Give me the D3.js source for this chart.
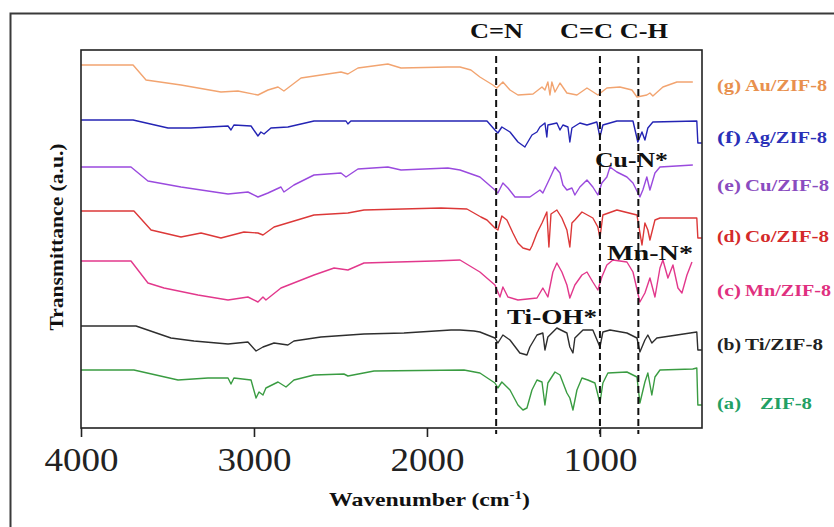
<!DOCTYPE html>
<html>
<head>
<meta charset="utf-8">
<script src="https://cdn.jsdelivr.net/npm/d3@7"></script>
<style>
  body { margin: 0; background: #fff; }
  svg { display: block; }
</style>
</head>
<body>
<div id="chart"></div>
<script>
// FTIR spectra, [wavenumber cm-1, transmittance a.u.]
const auZif8 = [[4000,363],[3699,363],[3624,348],[3422,343],[3191,336],[3093,337],[2977,333],[2919,338],[2861,341],[2827,337],[2728,350],[2497,356],[2457,354],[2399,360],[2226,364],[2150,360],[1879,361],[1809,361],[1746,358],[1694,351],[1619,343],[1596,340],[1561,346],[1520,338],[1474,333],[1387,334],[1335,341],[1318,338],[1301,346],[1289,333],[1278,346],[1260,336],[1231,345],[1191,335],[1133,333],[1075,340],[1012,333],[960,340],[885,341],[815,338],[786,331],[729,333],[711,335],[694,332],[636,341],[555,346],[463,346]];
const agZif8 = [[4000,308],[3699,308],[3497,300],[3364,300],[3150,302],[3133,298],[3116,303],[3017,302],[2977,292],[2960,296],[2942,294],[2902,300],[2804,301],[2653,307],[2468,307],[2457,304],[2440,307],[1809,307],[1653,307],[1607,298],[1590,295],[1567,301],[1520,296],[1474,286],[1434,281],[1393,293],[1364,296],[1347,301],[1318,305],[1307,291],[1301,303],[1249,305],[1231,298],[1214,303],[1185,301],[1174,286],[1162,300],[1116,305],[1075,303],[1018,306],[1000,291],[983,303],[902,307],[809,307],[781,286],[757,296],[740,288],[723,300],[694,306],[440,307],[434,285],[411,285]];
const cuZif8 = [[4000,261],[3711,261],[3613,247],[3422,241],[3150,234],[3035,236],[2977,231],[2919,235],[2844,241],[2827,236],[2769,243],[2653,253],[2497,255],[2468,251],[2399,259],[2226,261],[2150,258],[1879,260],[1809,258],[1694,251],[1607,238],[1590,235],[1561,245],[1532,240],[1491,231],[1405,231],[1347,238],[1330,235],[1289,250],[1260,261],[1231,255],[1214,243],[1191,238],[1162,240],[1145,233],[1116,241],[1075,248],[1041,241],[1012,233],[989,245],[960,251],[942,261],[902,256],[844,251],[809,245],[769,231],[752,238],[729,251],[711,238],[682,255],[653,261],[463,263]];
const coZif8 = [[4000,217],[3694,217],[3595,198],[3422,191],[3306,195],[3191,190],[3058,196],[2977,195],[2948,193],[2884,201],[2653,213],[2457,215],[2364,218],[1919,220],[1769,219],[1688,211],[1653,208],[1607,200],[1590,198],[1567,212],[1538,208],[1503,195],[1474,185],[1445,180],[1405,178],[1393,182],[1364,195],[1335,205],[1307,216],[1295,181],[1283,214],[1249,218],[1220,210],[1191,198],[1174,181],[1162,205],[1145,208],[1104,216],[1041,210],[1012,201],[1000,190],[983,213],[902,218],[786,213],[757,183],[740,205],[723,198],[711,188],[682,208],[653,210],[463,210],[440,210],[434,190],[411,190]];
const mnZif8 = [[4000,167],[3711,167],[3613,145],[3520,140],[3324,133],[3150,128],[3035,131],[2977,126],[2948,131],[2931,128],[2844,140],[2653,153],[2537,160],[2457,158],[2364,165],[2168,166],[1960,167],[1809,168],[1694,156],[1607,143],[1578,131],[1561,141],[1532,131],[1474,128],[1364,130],[1330,140],[1301,131],[1272,156],[1249,165],[1220,156],[1191,143],[1174,130],[1145,143],[1104,153],[1075,156],[1041,146],[1012,138],[989,151],[960,163],[925,168],[844,166],[809,156],[769,126],[740,135],[711,150],[682,131],[653,160],[636,168],[607,150],[578,163],[549,140],[526,135],[497,153],[468,166]];
const tiZif8 = [[4000,102],[3682,102],[3480,90],[3347,87],[3150,84],[3035,86],[2988,77],[2948,81],[2884,85],[2804,83],[2769,87],[2613,91],[2364,94],[2133,95],[1861,98],[1809,98],[1728,97],[1694,96],[1607,90],[1590,85],[1561,93],[1520,88],[1463,75],[1422,73],[1405,81],[1364,93],[1330,95],[1318,78],[1301,91],[1249,100],[1191,95],[1174,81],[1156,75],[1145,90],[1098,98],[1041,98],[1000,81],[983,96],[942,98],[844,95],[786,90],[769,76],[740,88],[723,93],[700,85],[671,90],[555,93],[440,96],[434,78],[411,78]];
const zif8 = [[4000,58],[3694,58],[3439,48],[3266,50],[3150,50],[3133,44],[3116,50],[3017,48],[2988,30],[2971,36],[2948,33],[2931,40],[2861,46],[2815,41],[2769,48],[2653,53],[2480,54],[2457,52],[2306,57],[1786,58],[1694,55],[1607,45],[1590,40],[1567,46],[1520,38],[1474,23],[1445,18],[1422,20],[1393,38],[1364,48],[1335,46],[1318,23],[1301,45],[1260,56],[1231,53],[1191,35],[1174,30],[1156,18],[1133,38],[1104,50],[1070,48],[1029,45],[1000,25],[983,45],[954,55],[844,56],[786,51],[769,25],[740,46],[723,55],[700,33],[682,51],[653,58],[463,59],[440,60],[434,23],[411,23]];

const seriesTags = ['(g)', '(f)', '(e)', '(d)', '(c)', '(b)', '(a)'];
const seriesNames = ['Au/ZIF-8', 'Ag/ZIF-8', 'Cu/ZIF-8', 'Co/ZIF-8', 'Mn/ZIF-8', 'Ti/ZIF-8', 'ZIF-8'];
const xTicks = [4000, 3000, 2000, 1000];
const bandPositions = [1600, 1000, 778];
const bandLabels = ['C=N', 'C=C C-H'];
const starLabels = ['Cu-N*', 'Mn-N*', 'Ti-OH*'];

const allSeries = [auZif8, agZif8, cuZif8, coZif8, mnZif8, tiZif8, zif8];
const lineColors = ['#f2a470', '#2424b4', '#9a4ade', '#dc3838', '#e2388c', '#2e2e2e', '#3a9c42'];
const labelColors = ['#e8904e', '#2a30b8', '#8a4cc0', '#d42a2a', '#e0307f', '#222222', '#22a064'];

const width = 834, height = 527;
const margin = { top: 50, right: 132, bottom: 99, left: 81 };

const svg = d3.select('#chart').append('svg')
  .attr('width', width)
  .attr('height', height);

// outer frame of the figure
svg.append('rect')
  .attr('x', 10.5).attr('y', 13.5)
  .attr('width', 900).attr('height', 600)
  .attr('fill', 'none')
  .attr('stroke', '#3a3a3a')
  .attr('stroke-width', 2);

const x = d3.scaleLinear()
  .domain([4000, 410])
  .range([margin.left, width - margin.right]);
const y = d3.scaleLinear()
  .domain([0, 378])
  .range([height - margin.bottom, margin.top]);

const line = d3.line()
  .x(d => x(d[0]))
  .y(d => y(d[1]));

const g = svg.append('g');

allSeries.forEach((s, i) => {
  g.append('path')
    .datum(s)
    .attr('fill', 'none')
    .attr('stroke', lineColors[i])
    .attr('stroke-width', 1.4)
    .attr('stroke-linejoin', 'round')
    .attr('d', line);
});

// plot frame
svg.append('rect')
  .attr('x', margin.left).attr('y', margin.top)
  .attr('width', x.range()[1] - margin.left)
  .attr('height', y.range()[0] - margin.top)
  .attr('fill', 'none')
  .attr('stroke', '#222')
  .attr('stroke-width', 1.6);

// dashed band markers
svg.selectAll('.band')
  .data(bandPositions)
  .enter().append('line')
  .attr('x1', d => x(d)).attr('x2', d => x(d))
  .attr('y1', 56).attr('y2', 434)
  .attr('stroke', '#111')
  .attr('stroke-width', 2)
  .attr('stroke-dasharray', '7,4');

// x axis
const xAxis = svg.append('g')
  .attr('transform', `translate(0,${y.range()[0]})`)
  .call(d3.axisBottom(x).tickValues(xTicks).tickSize(9).tickPadding(8).tickFormat(d3.format('d')));
xAxis.select('.domain').remove();
xAxis.selectAll('line').attr('stroke', '#222').attr('stroke-width', 1.6);
xAxis.selectAll('text')
  .attr('fill', '#222')
  .style('font-family', '"Liberation Serif", "Times New Roman", serif')
  .style('font-size', '33px')
  .attr('dy', '0.78em')
  .attr('textLength', 74)
  .attr('lengthAdjust', 'spacingAndGlyphs');

function label(txt, px, py, size, len, color, anchor) {
  return svg.append('text')
    .attr('x', px).attr('y', py)
    .attr('text-anchor', anchor || 'start')
    .attr('fill', color || '#111')
    .style('font-family', '"Liberation Serif", "Times New Roman", serif')
    .style('font-weight', 'bold')
    .style('font-size', size + 'px')
    .attr('textLength', len)
    .attr('lengthAdjust', 'spacingAndGlyphs')
    .text(txt);
}

// band labels on top
label(bandLabels[0], 470, 38, 22, 53);
label(bandLabels[1], 560, 38, 22, 108);

// assignments
label(starLabels[0], 595, 167, 21, 73);
label(starLabels[1], 607, 260, 21, 86);
label(starLabels[2], 507, 324, 21, 90);

// series labels on the right
const labelY = [91, 143, 191, 242, 296, 350, 409];
const nameLen = [82, 82, 84, 84, 86, 78, 52];
seriesTags.forEach((t, i) => {
  label(t, 717, labelY[i], 16, 24, labelColors[i]);
  const nx = i === 6 ? 760 : 745;
  label(seriesNames[i], nx, labelY[i], 16, nameLen[i], labelColors[i]);
});

// axis titles
const xt = svg.append('text')
  .attr('x', 329).attr('y', 506)
  .attr('fill', '#111')
  .style('font-family', '"Liberation Serif", "Times New Roman", serif')
  .style('font-weight', 'bold')
  .style('font-size', '19px')
  .attr('textLength', 201)
  .attr('lengthAdjust', 'spacingAndGlyphs');
xt.append('tspan').text('Wavenumber (cm');
xt.append('tspan').attr('dy', -7).style('font-size', '12px').text('-1');
xt.append('tspan').attr('dy', 7).text(')');

svg.append('text')
  .attr('transform', 'translate(63,237) rotate(-90)')
  .attr('text-anchor', 'middle')
  .attr('fill', '#111')
  .style('font-family', '"Liberation Serif", "Times New Roman", serif')
  .style('font-weight', 'bold')
  .style('font-size', '18px')
  .attr('textLength', 187)
  .attr('lengthAdjust', 'spacingAndGlyphs')
  .text('Transmittance (a.u.)');
</script>
</body>
</html>
